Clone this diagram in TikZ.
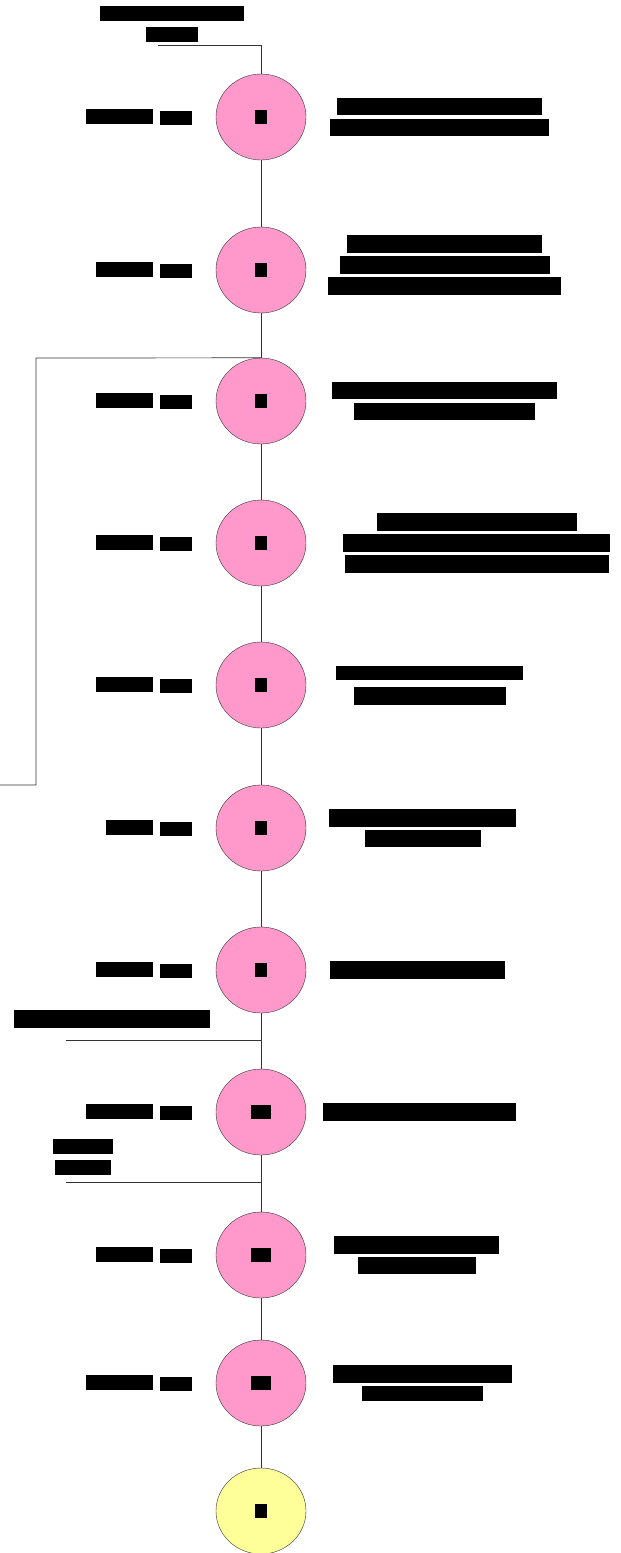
\documentclass[tikz,border=0pt]{standalone}
\usepackage{fontspec}
\setmainfont{Liberation Sans}
\newfontfamily\numfont{DejaVu Sans}
\usepackage{xcolor}
\usetikzlibrary{positioning, shapes.geometric}

\definecolor{stagepink}{HTML}{FF99CC}
\definecolor{stageyellow}{HTML}{FFFF99}
\newcommand{\hid}[1]{{\setlength{\fboxsep}{1.5pt}\colorbox{black}{#1}}}

\begin{document}
\begin{tikzpicture}[x=1pt, y=-1pt,
  every node/.style={font=\fontsize{16}{21}\selectfont\bfseries},
  stage/.style={ellipse, draw=black!80, fill=stagepink,
    minimum width=90pt, minimum height=86pt, inner sep=0pt},
  final/.style={stage, fill=stageyellow},
  note/.style={align=center, inner sep=0pt},
  span/.style={note, font=\numfont\fontsize{14}{17}\selectfont\bfseries},
  link/.style={draw=black!80, line width=0.7pt}]
\useasboundingbox (0,0) rectangle (621,1553);

% Stages down the spine
\foreach \y/\n/\k in {117/1/1, 270/2/2, 401/3/3, 543/4/4, 685/5/5,
                      828/6/6, 970/7/7, 1112/10/8, 1255/11/9, 1383/12/10} {
  \node[stage] (s\k) at (261,\y) {\hid{\n}};
}
\node[final] (s11) at (261,1511) {\hid{0}};

\foreach \a/\b in {1/2, 2/3, 3/4, 4/5, 5/6, 6/7, 7/8, 8/9, 9/10, 10/11} {
  \draw[link] (s\a) -- (s\b);
}

% Head of the line
\node[note] (head) at (172,24) {\hid{Common ancestor}\\\hid{Earlier}};
\coordinate (headend) at (158,45);
\coordinate (headknee) at (261,45);
\draw[link] (headend) -- (headknee) -- (s1);

% Bracket on the left
\coordinate (bra) at (36,358);
\coordinate (brb) at (36,785);
\coordinate (brc) at (0,785);
\draw[link] (s3.north) -- (bra) -- (brb) -- (brc);

% Side branches
\coordinate (forkA) at (261,1040);
\coordinate (forkAend) at (66,1040);
\draw[link] (forkAend) -- (forkA);
\node[note] (forkAlab) at (112,1019) {\hid{Spread of the early farms}};
\coordinate (forkB) at (261,1182);
\coordinate (forkBend) at (66,1182);
\draw[link] (forkBend) -- (forkB);
\node[note] (forkBlab) at (83,1157) {\hid{Second}\\\hid{branch}};

% Durations
\node[span, left=24pt of s1] (t1) {\hid{150,000}\hspace{1.5pt} \hid{ago}};
\node[span, left=24pt of s2] (t2) {\hid{50,000}\hspace{1.5pt} \hid{ago}};
\node[span, left=24pt of s3] (t3) {\hid{40,000}\hspace{1.5pt} \hid{ago}};
\node[span, left=24pt of s4] (t4) {\hid{25,000}\hspace{1.5pt} \hid{ago}};
\node[span, left=24pt of s5] (t5) {\hid{15,000}\hspace{1.5pt} \hid{ago}};
\node[span, left=24pt of s6] (t6) {\hid{5,000}\hspace{1.5pt} \hid{ago}};
\node[span, left=24pt of s7] (t7) {\hid{10,000}\hspace{1.5pt} \hid{ago}};
\node[span, left=24pt of s8] (t8) {\hid{100,000}\hspace{1.5pt} \hid{ago}};
\node[span, left=24pt of s9] (t9) {\hid{30,000}\hspace{1.5pt} \hid{ago}};
\node[span, left=24pt of s10] (t10) {\hid{120,000}\hspace{1.5pt} \hid{ago}};

% Descriptions
\node[note, right=24pt of s1] (n1) {\hid{Ancestral groups, splitting}\\\hid{across the southern regions}};
\node[note, right=22pt of s2, yshift=5pt] (n2) {\hid{Second group moves out}\\\hid{along the coasts and rivers}\\\hid{reaching new lands far to east}};
\node[note, right=26pt of s3] (n3) {\hid{Third group settles far inland}\\\hid{on the highest plateaus}};
\node[note, right=37pt of s4] (n4) {\hid{Groups spread northward}\\\hid{through the valleys and across the}\\\hid{mountains into the colder steppes}};
\node[note, right=30pt of s5] (n5) {\hid{Settlers reached islands}\\\hid{by crossing the sea}};
\node[note, right=23pt of s6] (n6) {\hid{Earliest farming villages}\\\hid{by the streams}};
\node[note, right=24pt of s7] (n7) {\hid{Towns grow into cities}};
\node[note, right=17pt of s8] (n8) {\hid{Trade linking the regions}};
\node[note, right=28pt of s9] (n9) {\hid{Writing comes to use}\\\hid{in many places}};
\node[note, right=27pt of s10] (n10) {\hid{Empires arise and fade}\\\hid{across the land}};
\end{tikzpicture}
\end{document}
